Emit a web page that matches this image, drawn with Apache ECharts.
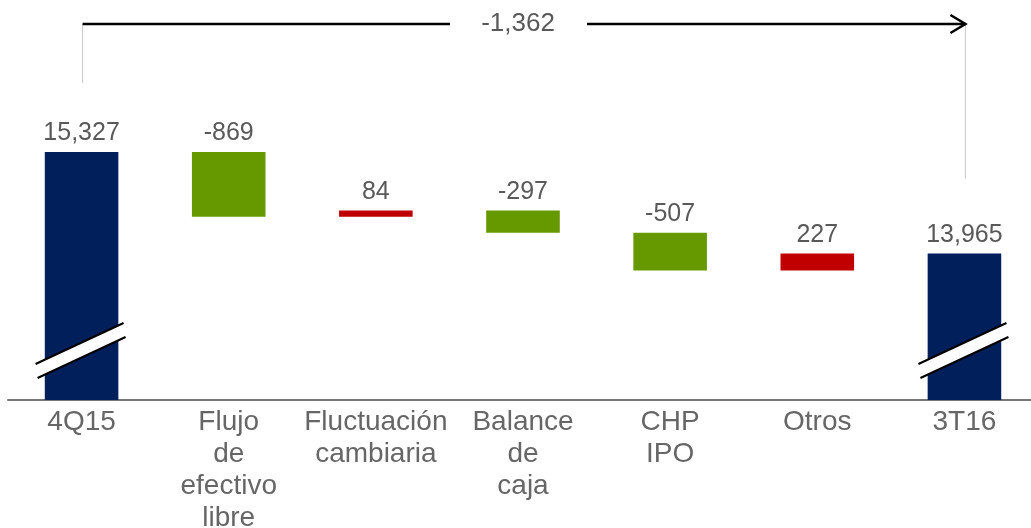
<!DOCTYPE html>
<html>
<head>
<meta charset="utf-8">
<script src="https://cdn.jsdelivr.net/npm/echarts@6/dist/echarts.min.js"></script>
<style>
  html, body { margin: 0; padding: 0; background: #fff; }
  #chart1 { width: 1031px; height: 528px; }
</style>
</head>
<body>
<div id="chart1"></div>
<script>
// datos del puente 4Q15 -> 3T16
var categories = ['4Q15', 'Flujo\nde\nefectivo\nlibre', 'Fluctuación\ncambiaria', 'Balance\nde\ncaja', 'CHP\nIPO', 'Otros', '3T16'];
var startValue = 15327;
var changes = [-869, 84, -297, -507, 227];
var endValue = 13965;
var totalChange = -1362;

var NAVY = '#001f5b', GREEN = '#669900', RED = '#c00000', TXT = '#595959';
var FONT = 'Liberation Sans, Arial, sans-serif';

// armar base invisible + barra visible
var baseData = [0], barData = [], labels = [];
barData.push({ value: startValue, itemStyle: { color: NAVY } });
labels.push(startValue);
var run = startValue;
changes.forEach(function (d) {
  var next = run + d;
  baseData.push(Math.min(run, next));
  barData.push({ value: Math.abs(d), itemStyle: { color: d < 0 ? GREEN : RED } });
  labels.push(d);
  run = next;
});
baseData.push(0);
barData.push({ value: endValue, itemStyle: { color: NAVY } });
labels.push(endValue);

function fmt(v) { return v.toLocaleString('en-US'); }

var myChart = echarts.init(document.getElementById('chart1'));
var option = {
  animation: false,
  grid: { left: 8, width: 1030, top: 27.3, bottom: 128, outerBoundsMode: 'none', containLabel: false },
  xAxis: {
    type: 'category',
    data: categories,
    axisTick: { show: false },
    axisLine: { lineStyle: { color: '#767676', width: 2 } },
    axisLabel: {
      color: '#666666', fontSize: 28, lineHeight: 32, margin: 6,
      fontFamily: FONT, interval: 0
    }
  },
  yAxis: { type: 'value', min: 12000, max: 17000, show: false, splitLine: { show: false } },
  series: [
    {
      name: 'base', type: 'bar', stack: 'one', barWidth: '50%',
      itemStyle: { color: 'transparent' }, data: baseData, silent: true
    },
    {
      name: 'valor', type: 'bar', stack: 'one', barWidth: '50%',
      data: barData,
      label: {
        show: true, position: 'top', distance: 6,
        color: TXT, fontSize: 25, fontFamily: FONT,
        formatter: function (p) { return fmt(labels[p.dataIndex]); }
      }
    }
  ]
};
myChart.setOption(option);

// marcas de corte, flecha superior
function px(cat, val) { return myChart.convertToPixel({ xAxisIndex: 0, yAxisIndex: 0 }, [cat, val]); }
var g = [];
var y0 = px(0, 12000)[1];
[0, categories.length - 1].forEach(function (i) {
  var cx = px(i, 12000)[0];
  g.push({ type: 'polygon', shape: { points: [[cx - 46, y0 - 36], [cx + 42, y0 - 77], [cx + 44, y0 - 63], [cx - 44, y0 - 22]] },
    style: { fill: '#fff' }, z: 100 });
  g.push({ type: 'line', shape: { x1: cx - 46, y1: y0 - 36, x2: cx + 42, y2: y0 - 77 }, style: { stroke: '#000', lineWidth: 2 }, z: 101 });
  g.push({ type: 'line', shape: { x1: cx - 44, y1: y0 - 22, x2: cx + 44, y2: y0 - 63 }, style: { stroke: '#000', lineWidth: 2 }, z: 101 });
});
var pL = px(0, startValue), pR = px(categories.length - 1, endValue);
var xL = pL[0] + 1, xR = pR[0] + 1, yT = 24;
var mid = (xL + xR) / 2 - 6;
g.push({ type: 'line', shape: { x1: xL, y1: yT, x2: xL, y2: pL[1] - 69 }, style: { stroke: '#c8c8c8', lineWidth: 1 } });
g.push({ type: 'line', shape: { x1: xR, y1: yT, x2: xR, y2: pR[1] - 75 }, style: { stroke: '#c8c8c8', lineWidth: 1 } });
g.push({ type: 'line', shape: { x1: xL, y1: yT, x2: mid - 68, y2: yT }, style: { stroke: '#000', lineWidth: 2.5 } });
g.push({ type: 'line', shape: { x1: mid + 69, y1: yT, x2: xR, y2: yT }, style: { stroke: '#000', lineWidth: 2.5 } });
g.push({ type: 'polyline', shape: { points: [[xR - 15, yT - 9], [xR, yT], [xR - 15, yT + 9]] }, style: { stroke: '#000', lineWidth: 2.5, fill: null } });
g.push({ type: 'text', x: mid, y: yT, style: { text: fmt(totalChange), fill: TXT, fontSize: 26,
  fontFamily: FONT, align: 'center', verticalAlign: 'middle' } });
myChart.setOption({ graphic: g });
</script>
</body>
</html>
